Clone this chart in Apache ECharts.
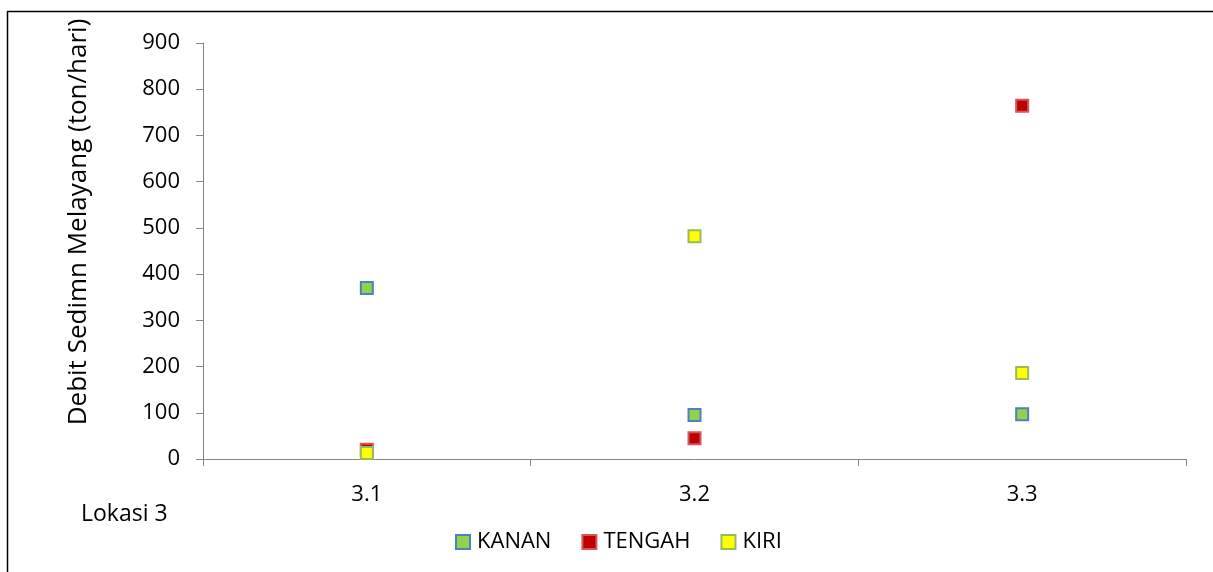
<!DOCTYPE html>
<html>
<head>
<meta charset="utf-8">
<script src="https://cdn.jsdelivr.net/npm/echarts@6/dist/echarts.min.js"></script>
<style>
  html, body { margin: 0; padding: 0; background: #fff; }
  #chart { width: 1213px; height: 572px; }
</style>
</head>
<body>
<div id="chart"></div>
<script>
// Lokasi 3 — suspended sediment discharge per station point
const categories = ['3.1', '3.2', '3.3'];
const kanan = [370, 95, 97];
const tengah = [20, 45, 764];
const kiri = [13, 482, 186];
const yTicks = [0, 900, 100]; // min, max, interval

const FONT = '"Open Sans", "Liberation Sans", sans-serif';

const chart = echarts.init(document.getElementById('chart'));

function scatter(name, data, fill, border) {
  return {
    name: name,
    type: 'scatter',
    data: data,
    symbol: 'rect',
    symbolSize: 12,
    itemStyle: { color: fill, borderColor: border, borderWidth: 2, opacity: 1 },
    emphasis: { disabled: true }
  };
}

chart.setOption({
  animation: false,
  backgroundColor: '#ffffff',
  grid: { left: 203, right: 27, top: 43, bottom: 113 },
  xAxis: {
    type: 'category',
    data: categories,
    boundaryGap: true,
    axisLine: { lineStyle: { color: '#868686', width: 1 } },
    axisTick: { show: true, length: 7, lineStyle: { color: '#868686' } },
    axisLabel: { color: '#000', fontFamily: FONT, fontSize: 22, margin: 25 },
    splitLine: { show: false }
  },
  yAxis: {
    type: 'value',
    min: yTicks[0],
    max: yTicks[1],
    interval: yTicks[2],
    axisLine: { show: true, lineStyle: { color: '#868686', width: 1 } },
    axisTick: { show: true, length: 7, lineStyle: { color: '#868686' } },
    axisLabel: { color: '#000', fontFamily: FONT, fontSize: 22, margin: 23 },
    splitLine: { show: false }
  },
  legend: {
    bottom: 14,
    left: 450,
    padding: 5,
    itemWidth: 14,
    itemHeight: 14,
    itemGap: 30,
    icon: 'rect',
    textStyle: { color: '#000', fontFamily: FONT, fontSize: 22, padding: [0, 0, 0, 2] },
    data: ['KANAN', 'TENGAH', 'KIRI']
  },
  graphic: [
    { type: 'line', shape: { x1: 7.5, y1: 11, x2: 7.5, y2: 572 }, style: { stroke: '#000', lineWidth: 1.5 } },
    { type: 'line', shape: { x1: 7, y1: 11.5, x2: 1213, y2: 11.5 }, style: { stroke: '#000', lineWidth: 1.5 } },
    {
      type: 'text', x: 79, y: 222, rotation: Math.PI / 2,
      style: { text: 'Debit Sedimn Melayang (ton/hari)', fill: '#000', font: '26px ' + FONT,
               align: 'center', verticalAlign: 'middle' }
    },
    {
      type: 'text', x: 81, y: 514,
      style: { text: 'Lokasi 3', fill: '#000', font: '23px ' + FONT, align: 'left', verticalAlign: 'middle' }
    }
  ],
  series: [
    scatter('KANAN', kanan, '#92D050', '#4F81BD'),
    scatter('TENGAH', tengah, '#C00000', '#D0575A'),
    scatter('KIRI', kiri, '#FFFF00', '#9BBB59')
  ]
});
</script>
</body>
</html>
